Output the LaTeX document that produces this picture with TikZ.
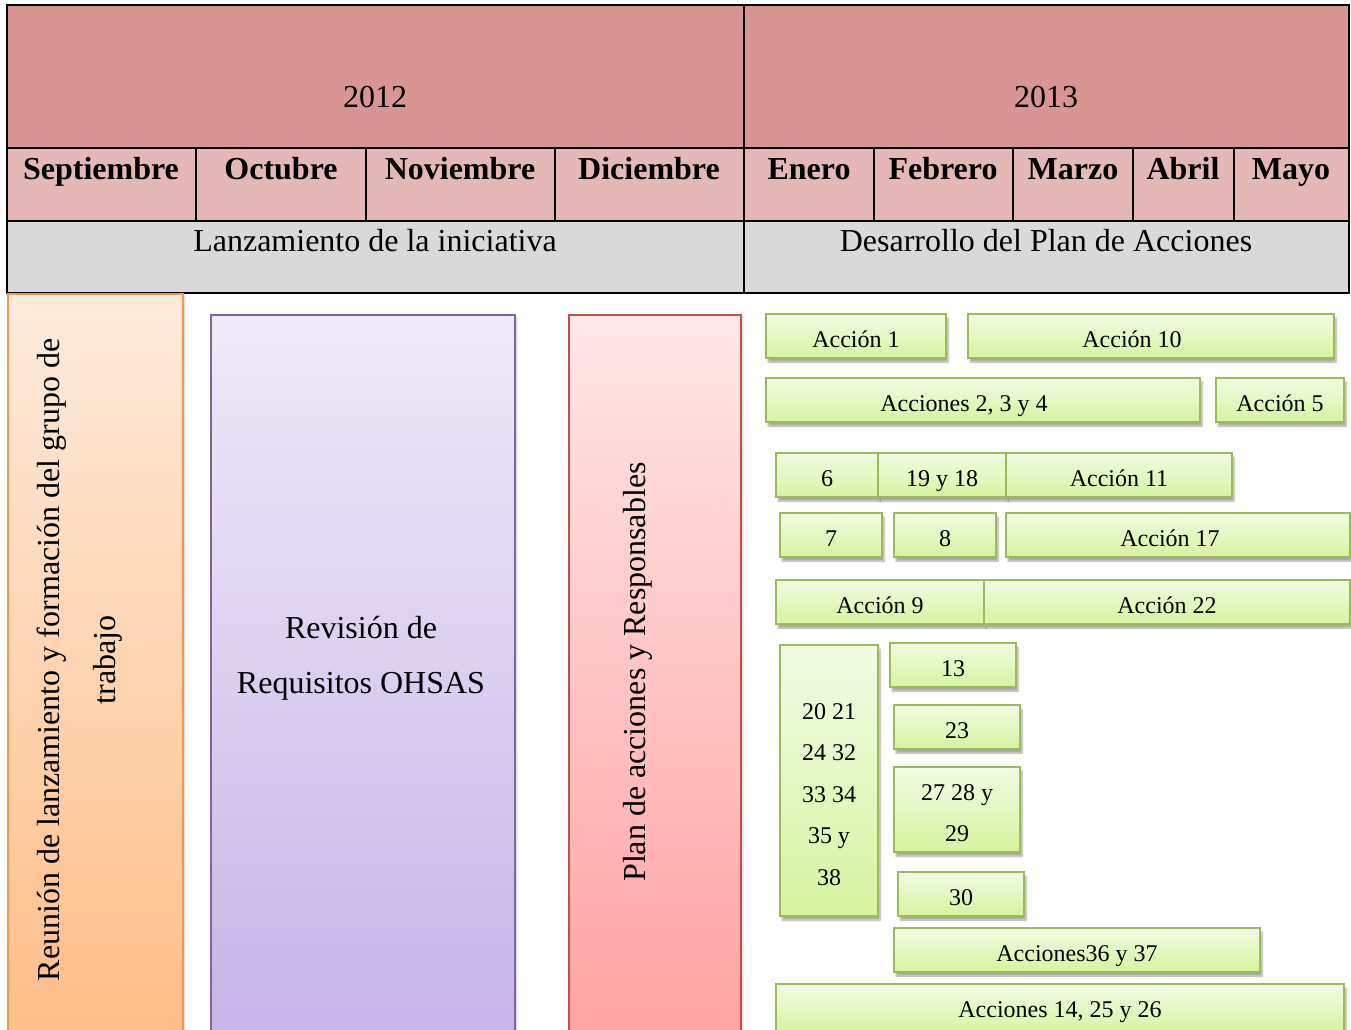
\documentclass[tikz,border=0pt]{standalone}
\usepackage{fontspec}
\setmainfont{Liberation Serif}
\usetikzlibrary{shadows.blur}

\definecolor{yearfill}{HTML}{D99594}
\definecolor{monthfill}{HTML}{E5B8B7}
\definecolor{phasefill}{HTML}{D9D9D9}
\definecolor{orgtop}{HTML}{FDEBDC}
\definecolor{orgbot}{HTML}{FFBD85}
\definecolor{orgline}{HTML}{F79646}
\definecolor{purtop}{HTML}{EFEAF8}
\definecolor{purbot}{HTML}{C5B3E6}
\definecolor{purline}{HTML}{8064A2}
\definecolor{redtop}{HTML}{FFE7E8}
\definecolor{redbot}{HTML}{FFA0A0}
\definecolor{redline}{HTML}{C0504D}
\definecolor{grntop}{HTML}{F1FBE3}
\definecolor{grnbot}{HTML}{D6F4A0}
\definecolor{grnline}{HTML}{9BBB59}

\tikzset{
  grid line/.style={line width=1.8pt, draw=black},
  yeartxt/.style={font=\fontsize{32}{38}\selectfont, anchor=base},
  monthtxt/.style={font=\fontsize{32}{38}\selectfont\bfseries, anchor=base},
  phasetxt/.style={font=\fontsize{32}{38}\selectfont, anchor=base},
  bigbox/.style={anchor=north west, line width=1.8pt, inner sep=0pt,
    blur shadow={shadow xshift=2pt, shadow yshift=-2pt, shadow opacity=20, shadow blur steps=6}},
  orangebox/.style={bigbox, draw=orgline, top color=orgtop, bottom color=orgbot},
  purplebox/.style={bigbox, draw=purline, top color=purtop, bottom color=purbot},
  redbox/.style={bigbox, draw=redline, top color=redtop, bottom color=redbot},
  bigtxt/.style={font=\fontsize{32}{56}\selectfont, align=center, inner sep=0pt},
  actbox/.style={draw=grnline, line width=1.8pt, top color=grntop, bottom color=grnbot,
    minimum height=44pt, inner sep=0pt,
    blur shadow={shadow xshift=2pt, shadow yshift=-4pt, shadow opacity=35, shadow blur steps=6}},
  acttxt/.style={font=\fontsize{24}{41.5}\selectfont, align=center, inner sep=0pt},
  actline/.style={acttxt, text height=22pt, text depth=0pt},
  act/.style={actbox, actline},
}

\begin{document}
\begin{tikzpicture}[x=1pt, y=-1pt]
\useasboundingbox (0,0) rectangle (1351,1029);
\clip (0,0) rectangle (1351,1029);

% ---- timeline table ----
\fill[yearfill]  (7,5)   rectangle (1349,148);
\fill[monthfill] (7,148) rectangle (1349,221);
\fill[phasefill] (7,221) rectangle (1349,293);
\draw[grid line] (7,5) rectangle (1349,293);
\draw[grid line] (7,148) -- (1349,148);
\draw[grid line] (7,221) -- (1349,221);
\draw[grid line] (744,5) -- (744,293);
\foreach \xx in {196,366,555,874,1013,1133,1234}
  \draw[grid line] (\xx,148) -- (\xx,221);

\node[yeartxt] (y2012) at (375,107) {2012};
\node[yeartxt] (y2013) at (1046,107) {2013};

\node[monthtxt] (sep) at (101,179) {Septiembre};
\node[monthtxt] (oct) at (281,179) {Octubre};
\node[monthtxt] (nov) at (460,179) {Noviembre};
\node[monthtxt] (dic) at (649,179) {Diciembre};
\node[monthtxt] (ene) at (809,179) {Enero};
\node[monthtxt] (feb) at (943,179) {Febrero};
\node[monthtxt] (mar) at (1073,179) {Marzo};
\node[monthtxt] (abr) at (1183,179) {Abril};
\node[monthtxt] (may) at (1291,179) {Mayo};

\node[phasetxt] (lanz) at (375,251) {Lanzamiento de la iniciativa};
\node[phasetxt] (desa) at (1046,251) {Desarrollo del Plan de Acciones};

% ---- launch phase blocks ----
\node[orangebox, minimum width=175pt, minimum height=760pt] (reunion) at (7,293) {};
\node[bigtxt, rotate=90] (reuniontxt) at (80,660)
  {Reunión de lanzamiento y formación del grupo de\\trabajo};

\node[purplebox, minimum width=304pt, minimum height=740pt] (revision) at (210,314) {};
\node[bigtxt, font=\fontsize{32}{55}\selectfont] (revisiontxt) at (361,658)
  {Revisión de\\Requisitos OHSAS};

\node[redbox, minimum width=172pt, minimum height=740pt] (plan) at (568,314) {};
\node[bigtxt, rotate=90] (plantxt) at (638,672) {Plan de acciones y Responsables};

% ---- actions ----
\node[act, minimum width=180pt] (a1)  at (856,336)  {Acción 1};
\node[actbox, minimum width=366pt] (a10) at (1151,336) {};
\node[actline] (a10txt) at (1132,336) {Acción 10};
\node[actbox, minimum width=434pt] (a234) at (983,400) {};
\node[actline] (a234txt) at (964,400) {Acciones 2, 3 y 4};
\node[act, minimum width=128pt] (a5)  at (1280,400) {Acción 5};

\node[act, minimum width=102pt] (a6)  at (827,475)  {6};
\node[act, minimum width=128pt] (a19) at (942,475)  {19 y 18};
\node[act, minimum width=226pt] (a11) at (1119,475) {Acción 11};

\node[act, minimum width=102pt] (a7)  at (831,535)  {7};
\node[act, minimum width=102pt] (a8)  at (945,535)  {8};
\node[actbox, minimum width=344pt] (a17) at (1178,535) {};
\node[actline] (a17txt) at (1170,535) {Acción 17};

\node[act, minimum width=208pt] (a9)  at (880,602)  {Acción 9};
\node[act, minimum width=366pt] (a22) at (1167,602) {Acción 22};

\node[actbox, minimum width=98pt, minimum height=271pt] (a20) at (829,780.5) {};
\node[acttxt] (a20txt) at (829,794.5) {20 21\\24 32\\33 34\\35 y\\38};
\node[act, minimum width=126pt] (a13) at (953,665) {13};
\node[act, minimum width=126pt] (a23) at (957,727) {23};
\node[actbox, minimum width=126pt, minimum height=85pt] (a27) at (957,809.5) {};
\node[acttxt] (a27txt) at (957,813) {27 28 y\\29};
\node[act, minimum width=126pt] (a30) at (961,894) {30};
\node[act, minimum width=366pt] (a36) at (1077,950) {Acciones36 y 37};
\node[act, minimum width=568pt, minimum height=50pt, text height=16pt]
  (a14) at (1060,1009) {Acciones 14, 25 y 26};
\end{tikzpicture}
\end{document}
